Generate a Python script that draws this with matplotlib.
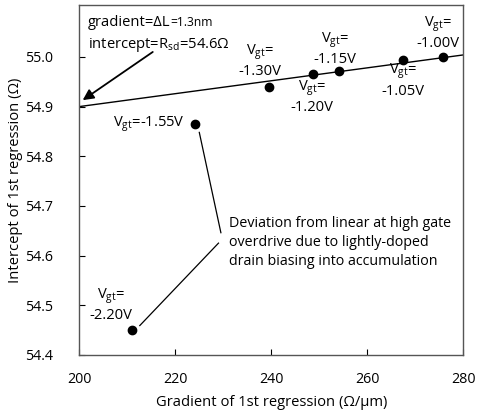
import numpy as np
import matplotlib
matplotlib.use('Agg')
import matplotlib.pyplot as plt

plt.rcParams['font.family'] = ['Open Sans', 'DejaVu Sans']
plt.rcParams['mathtext.fontset'] = 'custom'
plt.rcParams['mathtext.rm'] = 'Open Sans'
plt.rcParams['mathtext.it'] = 'Open Sans'
plt.rcParams['mathtext.default'] = 'regular'

# gate overdrive points: gradient vs intercept of the 1st regression
vgt = ['-1.00V', '-1.05V', '-1.15V', '-1.20V', '-1.30V', '-1.55V', '-2.20V']
gradient = [275.8, 267.5, 254.2, 248.7, 239.5, 224.2, 210.9]
intercept = [54.999, 54.994, 54.971, 54.966, 54.940, 54.865, 54.450]

# linear fit: slope = delta L (nm), intercept = Rsd (ohm)
deltaL = 0.0013
rsd = 54.64
fitX = np.array([200, 280])

fs = 10.6
fig = plt.figure(figsize=(4.78, 4.16), dpi=100)
ax = fig.add_axes([0.166, 0.147, 0.803, 0.841])

ax.plot(fitX, rsd + deltaL * fitX, color='black', lw=1)
ax.plot(gradient, intercept, 'o', color='black', ms=6)

ax.set_xlim(200, 280)
ax.set_ylim(54.4, 55.1046)
ax.set_xticks([200, 220, 240, 260, 280])
ax.set_yticks([54.4, 54.5, 54.6, 54.7, 54.8, 54.9, 55.0])
ax.set_yticklabels(['54.4', '54.5', '54.6', '54.7', '54.8', '54.9', '55.0'])
ax.tick_params(direction='in', length=4, width=0.8, labelsize=10.3)
ax.tick_params(axis='x', pad=12)
ax.tick_params(axis='y', pad=19)
for s in ax.spines.values():
    s.set_color('#555555')
    s.set_linewidth(1)
ax.set_xlabel('Gradient of 1st regression (Ω/µm)', fontsize=fs, labelpad=6)
ax.set_ylabel('Intercept of 1st regression (Ω)', fontsize=fs, labelpad=1)

# point labels
labelPos = {
    '-1.00V': (274.8, 55.048),
    '-1.05V': (267.5, 54.953),
    '-1.15V': (253.3, 55.017),
    '-1.20V': (248.5, 54.920),
    '-1.30V': (237.7, 54.992),
    '-2.20V': (206.6, 54.501),
}
for name, (lx, ly) in labelPos.items():
    ax.text(lx, ly, 'V$_{gt}$=\n' + name, ha='center', va='center',
            fontsize=fs, linespacing=1.2)
ax.text(222.0, 54.865, 'V$_{gt}$=-1.55V', ha='right', va='center', fontsize=fs)

# fit annotation, smaller value after delta L on the same baseline
t1 = ax.text(201.8, 55.062, 'gradient=ΔL', ha='left', va='baseline', fontsize=fs)
ax.annotate('=1.3nm', xy=(1, 55.062), xycoords=(t1, 'data'), ha='left',
            va='baseline', fontsize=fs * 0.82)
ax.text(201.8, 55.017, 'intercept=R$_{sd}$=54.6Ω', ha='left', va='baseline',
        fontsize=fs)
ax.annotate('', xy=(200.7, 54.913), xytext=(215.3, 55.010),
            arrowprops=dict(arrowstyle='-|>', color='black', lw=1.3,
                            mutation_scale=16, shrinkA=0, shrinkB=0))

# deviation note with leader lines
ax.text(231.2, 54.626, 'Deviation from linear at high gate\n'
        'overdrive due to lightly-doped\ndrain biasing into accumulation',
        ha='left', va='center', fontsize=10.3, linespacing=1.35)
ax.plot([225.0, 229.5], [54.848, 54.646], color='black', lw=0.9)
ax.plot([229.0, 212.6], [54.625, 54.459], color='black', lw=0.9)

fig.savefig('out.png', dpi=100)
